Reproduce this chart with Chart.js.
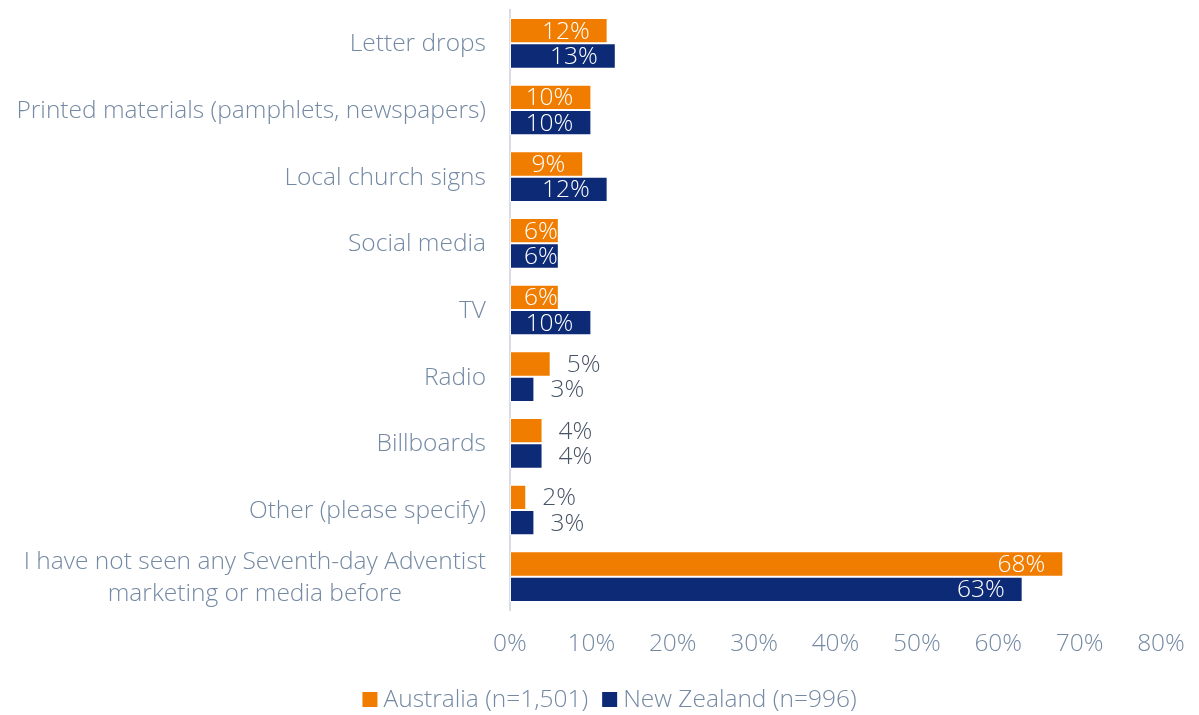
<!DOCTYPE html>
<html>
<head>
<meta charset="utf-8">
<script src="https://cdn.jsdelivr.net/npm/chart.js@4/dist/chart.umd.min.js"></script>
<style>
  html, body { margin: 0; padding: 0; background: #fff; }
  #wrap { width: 1199px; height: 715px; position: relative; }
</style>
</head>
<body>
<div id="wrap"><canvas id="chart"></canvas></div>
<script>
const categories = [
  "Letter drops",
  "Printed materials (pamphlets, newspapers)",
  "Local church signs",
  "Social media",
  "TV",
  "Radio",
  "Billboards",
  "Other (please specify)",
  ["I have not seen any Seventh-day Adventist", "marketing or media before"]
];
const australia = [12, 10, 9, 6, 6, 5, 4, 2, 68];
const newZealand = [13, 10, 12, 6, 10, 3, 4, 3, 63];
const seriesNames = ["Australia (n=1,501)", "New Zealand (n=996)"];
const tickValues = [0, 10, 20, 30, 40, 50, 60, 70, 80];

const ORANGE = "#F07D00";
const NAVY = "#0C2A76";
const SLATE = "#7489A3";
const DARK = "#475466";
const FONT = "'Open Sans', sans-serif";
const FONT_SIZE = 24.5;
const FONT_WEIGHT = 300;
const CSS_FONT = FONT_WEIGHT + " " + FONT_SIZE + "px " + FONT;

// category names drawn by hand so the two-line label is centred on itself
const categoryLabels = {
  id: "categoryLabels",
  afterDraw(chart) {
    const ctx = chart.ctx;
    const y = chart.scales.y;
    const right = y.left + y.width - 24;
    ctx.save();
    ctx.font = CSS_FONT;
    ctx.fillStyle = SLATE;
    ctx.textBaseline = "middle";
    categories.forEach((label, i) => {
      const cy = y.getPixelForValue(i) + 1;
      if (Array.isArray(label)) {
        const w = Math.max(...label.map(l => ctx.measureText(l).width));
        const lh = 32;
        ctx.textAlign = "center";
        label.forEach((line, j) => {
          ctx.fillText(line, right - w / 2, cy + (j - (label.length - 1) / 2) * lh);
        });
      } else {
        ctx.textAlign = "right";
        ctx.fillText(label, right, cy);
      }
    });
    ctx.restore();
  }
};

// value labels: white inside long bars, grey just past short ones
const valueLabels = {
  id: "valueLabels",
  afterDatasetsDraw(chart) {
    const ctx = chart.ctx;
    ctx.save();
    ctx.font = CSS_FONT;
    ctx.textBaseline = "middle";
    ctx.textAlign = "left";
    chart.data.datasets.forEach((ds, di) => {
      chart.getDatasetMeta(di).data.forEach((bar, i) => {
        const v = ds.data[i];
        const text = v + "%";
        const w = ctx.measureText(text).width;
        if (v >= 6) {
          ctx.fillStyle = "#ffffff";
          const x = Math.max(bar.x - 18 - w, bar.base + 14);
          ctx.fillText(text, x, bar.y + 1);
        } else {
          ctx.fillStyle = DARK;
          ctx.fillText(text, bar.x + 16, bar.y + 1);
        }
      });
    });
    ctx.restore();
  }
};

// legend below the axis: square swatch, small gap, series name
const bottomLegend = {
  id: "bottomLegend",
  afterDraw(chart) {
    const ctx = chart.ctx;
    const box = 15, gap = 6, spacing = 14;
    const cy = 699.5;
    ctx.save();
    ctx.font = CSS_FONT;
    ctx.textBaseline = "middle";
    ctx.textAlign = "left";
    const items = chart.data.datasets.map(ds => ({
      color: ds.backgroundColor,
      text: ds.label,
      w: box + gap + ctx.measureText(ds.label).width
    }));
    const total = items.reduce((s, it) => s + it.w, 0) + spacing * (items.length - 1);
    let x = chart.width / 2 + 10 - total / 2;
    items.forEach(it => {
      ctx.fillStyle = it.color;
      ctx.fillRect(x, cy - box / 2, box, box);
      ctx.fillStyle = SLATE;
      ctx.fillText(it.text, x + box + gap, cy + 1);
      x += it.w + spacing;
    });
    ctx.restore();
  }
};

new Chart(document.getElementById("chart"), {
  type: "bar",
  data: {
    labels: categories,
    datasets: [
      {
        label: seriesNames[0],
        data: australia,
        backgroundColor: ORANGE,
        borderColor: "rgba(255,255,255,0.7)",
        borderWidth: 1,
        borderSkipped: false
      },
      {
        label: seriesNames[1],
        data: newZealand,
        backgroundColor: NAVY,
        borderColor: "rgba(255,255,255,0.7)",
        borderWidth: 1,
        borderSkipped: false
      }
    ]
  },
  options: {
    indexAxis: "y",
    responsive: true,
    maintainAspectRatio: false,
    animation: false,
    layout: { padding: { left: 0, right: 38, top: 10, bottom: 0 } },
    datasets: {
      bar: { categoryPercentage: 0.76, barPercentage: 1.0 }
    },
    scales: {
      x: {
        min: 0,
        max: 80,
        afterBuildTicks(scale) {
          scale.ticks = tickValues.map(v => ({ value: v }));
        },
        afterFit(scale) {
          scale.height = 105;
          scale.paddingLeft = 0;
          scale.paddingRight = 0;
        },
        grid: { display: false, drawTicks: false },
        border: { display: false },
        ticks: {
          color: SLATE,
          font: { family: FONT, size: FONT_SIZE, weight: FONT_WEIGHT },
          padding: 19,
          callback: v => v + "%"
        }
      },
      y: {
        afterFit(scale) { scale.width = 510; },
        grid: { display: false, drawTicks: false },
        border: { display: true, color: "#D9DDE3", width: 2 },
        ticks: { display: false }
      }
    },
    plugins: {
      legend: { display: false },
      tooltip: { enabled: false }
    }
  },
  plugins: [categoryLabels, valueLabels, bottomLegend]
});
</script>
</body>
</html>
